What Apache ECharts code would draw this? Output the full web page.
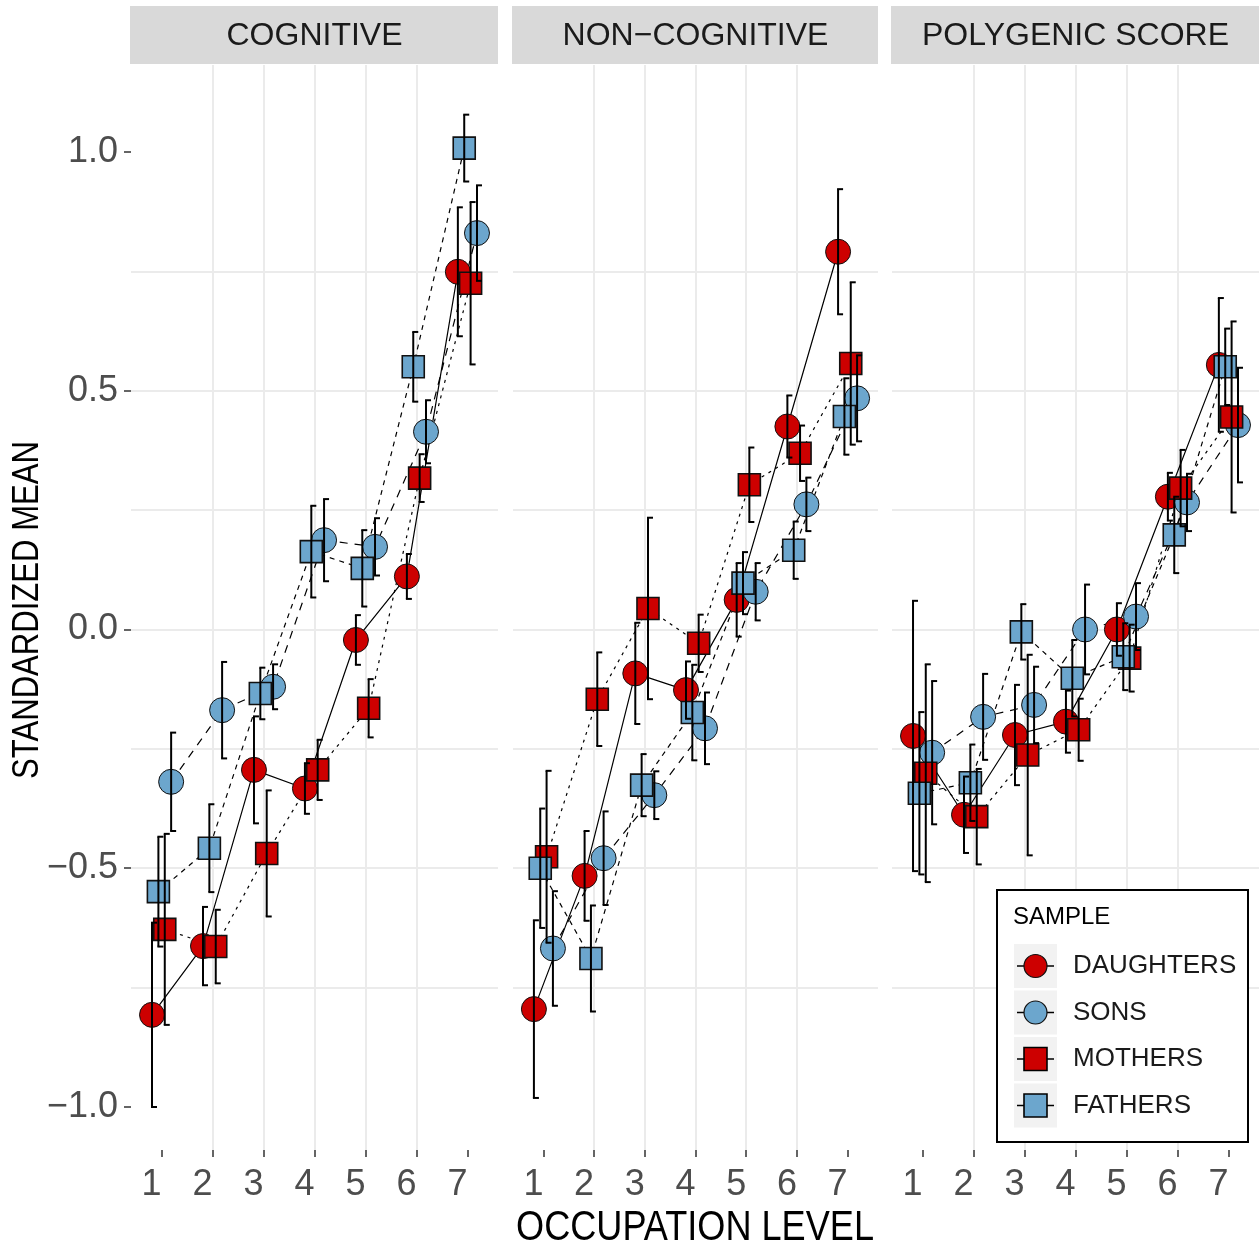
<!DOCTYPE html>
<html><head><meta charset="utf-8">
<script src="https://cdn.jsdelivr.net/npm/echarts@6/dist/echarts.min.js"></script>
<style>html,body{margin:0;padding:0;background:#fff}#c{width:1260px;height:1247px}</style>
</head><body><div id="c"></div>
<script>
// ---------- data ----------
const levels = [1, 2, 3, 4, 5, 6, 7];
const facets = ['COGNITIVE', 'NON\u2212COGNITIVE', 'POLYGENIC SCORE'];
const groups = ['DAUGHTERS', 'SONS', 'MOTHERS', 'FATHERS'];
const yTicks = [-1, -0.5, 0, 0.5, 1];
const yGrid = [-1, -0.75, -0.5, -0.25, 0, 0.25, 0.5, 0.75, 1];

// COGNITIVE
const daughtersCog    = [-0.807, -0.663, -0.294, -0.333, -0.022, 0.111, 0.749];
const daughtersCogErr = [0.193, 0.082, 0.112, 0.053, 0.052, 0.047, 0.135];
const sonsCog         = [-0.319, -0.169, -0.120, 0.187, 0.173, 0.414, 0.830];
const sonsCogErr      = [0.103, 0.101, 0.047, 0.086, 0.060, 0.066, 0.100];
const mothersCog      = [-0.628, -0.664, -0.469, -0.294, -0.165, 0.317, 0.725];
const mothersCogErr   = [0.200, 0.077, 0.132, 0.063, 0.061, 0.050, 0.170];
const fathersCog      = [-0.549, -0.458, -0.134, 0.163, 0.128, 0.550, 1.008];
const fathersCogErr   = [0.115, 0.092, 0.054, 0.096, 0.080, 0.073, 0.070];

// NON-COGNITIVE
const daughtersNon    = [-0.795, -0.516, -0.092, -0.127, 0.062, 0.425, 0.791];
const daughtersNonErr = [0.186, 0.094, 0.106, 0.060, 0.077, 0.065, 0.131];
const sonsNon         = [-0.668, -0.479, -0.347, -0.207, 0.079, 0.262, 0.484];
const sonsNonErr      = [0.120, 0.098, 0.050, 0.075, 0.060, 0.056, 0.090];
const mothersNon      = [-0.476, -0.146, 0.044, -0.029, 0.303, 0.369, 0.557];
const mothersNonErr   = [0.180, 0.098, 0.190, 0.060, 0.078, 0.058, 0.170];
const fathersNon      = [-0.500, -0.689, -0.326, -0.174, 0.097, 0.166, 0.446];
const fathersNonErr   = [0.125, 0.111, 0.065, 0.100, 0.065, 0.060, 0.080];

// POLYGENIC SCORE
const daughtersPoly    = [-0.223, -0.388, -0.221, -0.193, 0.000, 0.278, 0.554];
const daughtersPolyErr = [0.283, 0.080, 0.105, 0.065, 0.055, 0.050, 0.140];
const sonsPoly         = [-0.258, -0.183, -0.158, 0.000, 0.027, 0.266, 0.428];
const sonsPolyErr      = [0.150, 0.090, 0.080, 0.094, 0.070, 0.060, 0.120];
const mothersPoly      = [-0.301, -0.392, -0.263, -0.210, -0.060, 0.296, 0.445];
const mothersPolyErr   = [0.228, 0.100, 0.210, 0.065, 0.070, 0.080, 0.200];
const fathersPoly      = [-0.343, -0.321, -0.005, -0.102, -0.057, 0.198, 0.550];
const fathersPolyErr   = [0.170, 0.080, 0.058, 0.080, 0.070, 0.080, 0.080];

const means = [
  [daughtersCog, sonsCog, mothersCog, fathersCog],
  [daughtersNon, sonsNon, mothersNon, fathersNon],
  [daughtersPoly, sonsPoly, mothersPoly, fathersPoly]
];
const errs = [
  [daughtersCogErr, sonsCogErr, mothersCogErr, fathersCogErr],
  [daughtersNonErr, sonsNonErr, mothersNonErr, fathersNonErr],
  [daughtersPolyErr, sonsPolyErr, mothersPolyErr, fathersPolyErr]
];

// ---------- styles / layout ----------
const FONT = 'Liberation Sans, Arial, Helvetica, sans-serif';
const RED = '#CD0000', BLUE = '#6CA6CD';
const fills = [RED, BLUE, RED, BLUE];
const symbols = ['circle', 'circle', 'rect', 'rect'];
const symSizes = [25, 25, 22, 22];
const dodge = [-0.1875, 0.1875, 0.0625, -0.0625]; // alphabetical dodge: D, F, M, S
const dashes = ['solid', [8, 7], [3, 5], [5, 5]];
const panelLeft = [131, 513, 892];
const panelWidth = [367, 365, 367];
const TOP = 65, HEIGHT = 1085;
const XMIN = 0.4, XMAX = 7.6, YMIN = -1.09, YMAX = 1.182;

const grids = [], xAxes = [], yAxes = [], series = [], graphics = [];
const fmtY = v => (v < 0 ? '\u2212' : '') + Math.abs(v).toFixed(1);

facets.forEach((name, f) => {
  grids.push({ left: panelLeft[f], top: TOP, width: panelWidth[f], height: HEIGHT, containLabel: false });
  // labelled axes
  xAxes.push({
    gridIndex: f, type: 'value', min: XMIN, max: XMAX, position: 'bottom',
    axisLine: { show: false, onZero: false },
    axisTick: { show: true, customValues: levels, length: 7, lineStyle: { color: '#333333', width: 1.5 } },
    axisLabel: { show: true, customValues: levels, fontSize: 36, fontFamily: FONT, color: '#4D4D4D', margin: 17, padding: [0, 20, 0, 0] },
    splitLine: { show: false }
  });
  // grid-line axes
  xAxes.push({
    gridIndex: f, type: 'value', min: XMIN, max: XMAX, minInterval: 1, maxInterval: 1, position: 'bottom',
    axisLine: { show: false, onZero: false }, axisLabel: { show: false },
    axisTick: { show: false, customValues: levels },
    splitLine: { show: true, showMinLine: false, showMaxLine: false, lineStyle: { color: '#EBEBEB', width: 2 } }
  });
  yAxes.push({
    gridIndex: f, type: 'value', min: YMIN, max: YMAX, position: 'left',
    axisLine: { show: false, onZero: false },
    axisTick: { show: f === 0, customValues: yTicks, length: 7, lineStyle: { color: '#333333', width: 1.5 } },
    axisLabel: { show: f === 0, customValues: yTicks, formatter: fmtY, fontSize: 36, fontFamily: FONT, color: '#4D4D4D', margin: 13 },
    splitLine: { show: false }
  });
  yAxes.push({
    gridIndex: f, type: 'value', min: YMIN, max: YMAX, minInterval: 0.25, maxInterval: 0.25, position: 'left',
    axisLine: { show: false, onZero: false }, axisLabel: { show: false },
    axisTick: { show: false, customValues: yGrid },
    splitLine: { show: true, showMinLine: false, showMaxLine: false, lineStyle: { color: '#EBEBEB', width: 2 } }
  });

  groups.forEach((g, k) => {
    const pts = levels.map((L, i) => [L + dodge[k], means[f][k][i]]);
    const bars = levels.map((L, i) => [L + dodge[k], means[f][k][i] - errs[f][k][i], means[f][k][i] + errs[f][k][i]]);
    series.push({
      type: 'line', name: g, xAxisIndex: 2 * f, yAxisIndex: 2 * f, data: pts,
      symbol: 'none', showSymbol: false, silent: true, z: 2,
      lineStyle: { color: '#000', width: 1.2, type: dashes[k] }
    });
    series.push({
      type: 'scatter', name: g, xAxisIndex: 2 * f, yAxisIndex: 2 * f, data: pts,
      symbol: symbols[k], symbolSize: symSizes[k], silent: true, z: 3,
      itemStyle: { color: fills[k], borderColor: '#111', borderWidth: symbols[k] === 'rect' ? 1.6 : 1, opacity: 1 }
    });
    series.push({
      type: 'custom', name: g, xAxisIndex: 2 * f, yAxisIndex: 2 * f, data: bars, silent: true, z: 4,
      encode: { x: 0, y: [1, 2] },
      renderItem: (params, api) => {
        const x = api.value(0), lo = api.value(1), hi = api.value(2);
        const p1 = api.coord([x, hi]), p2 = api.coord([x, lo]);
        const st = { stroke: '#000', lineWidth: 2, fill: null };
        return { type: 'group', children: [
          { type: 'line', shape: { x1: p1[0], y1: p1[1], x2: p2[0], y2: p2[1] }, style: st },
          { type: 'line', shape: { x1: p1[0] - 1, y1: p1[1], x2: p1[0] + 5, y2: p1[1] }, style: st },
          { type: 'line', shape: { x1: p2[0] - 1, y1: p2[1], x2: p2[0] + 5, y2: p2[1] }, style: st }
        ] };
      }
    });
  });

  // facet strip
  graphics.push({ type: 'rect', z: 10, shape: { x: panelLeft[f] - 1, y: 6, width: panelWidth[f] + 1, height: 58 }, style: { fill: '#D9D9D9' } });
  graphics.push({ type: 'text', z: 11, x: panelLeft[f] + panelWidth[f] / 2, y: 36,
    style: { text: name, fontSize: 32, fontFamily: FONT, fill: '#1A1A1A', align: 'center', verticalAlign: 'middle' } });
});

// axis titles
graphics.push({ type: 'text', z: 11, x: 28, y: 610, rotation: Math.PI / 2, scaleX: 0.84,
  style: { text: 'STANDARDIZED MEAN', fontSize: 37, fontFamily: FONT, fill: '#000', align: 'center', verticalAlign: 'middle' } });
graphics.push({ type: 'text', z: 11, x: 695, y: 1228, scaleX: 0.86,
  style: { text: 'OCCUPATION LEVEL', fontSize: 42, fontFamily: FONT, fill: '#000', align: 'center', verticalAlign: 'middle' } });

// legend
graphics.push({ type: 'rect', z: 100, shape: { x: 997, y: 890, width: 251, height: 252 }, style: { fill: '#fff', stroke: '#000', lineWidth: 2 } });
graphics.push({ type: 'text', z: 101, x: 1013, y: 917,
  style: { text: 'SAMPLE', fontSize: 24, fontFamily: FONT, fill: '#000', align: 'left', verticalAlign: 'middle' } });
groups.forEach((g, k) => {
  const yc = 966 + k * 46.5, xc = 1035.5;
  graphics.push({ type: 'rect', z: 100, shape: { x: 1014, y: yc - 22, width: 43, height: 44 }, style: { fill: '#F2F2F2' } });
  graphics.push({ type: 'line', z: 101, shape: { x1: 1017, y1: yc, x2: 1054, y2: yc }, style: { stroke: '#000', lineWidth: 1.5 } });
  if (symbols[k] === 'circle') {
    graphics.push({ type: 'circle', z: 102, shape: { cx: xc, cy: yc, r: 11.5 }, style: { fill: fills[k], stroke: '#111', lineWidth: 1.2 } });
  } else {
    graphics.push({ type: 'rect', z: 102, shape: { x: xc - 11.5, y: yc - 11.5, width: 23, height: 23 }, style: { fill: fills[k], stroke: '#000', lineWidth: 1.6 } });
  }
  graphics.push({ type: 'text', z: 101, x: 1073, y: yc,
    style: { text: g, fontSize: 26, fontFamily: FONT, fill: '#1A1A1A', align: 'left', verticalAlign: 'middle' } });
});

const chart = echarts.init(document.getElementById('c'), null, { renderer: 'canvas' });
chart.setOption({
  animation: false,
  backgroundColor: '#fff',
  grid: grids, xAxis: xAxes, yAxis: yAxes, series: series, graphic: graphics
});
</script></body></html>
